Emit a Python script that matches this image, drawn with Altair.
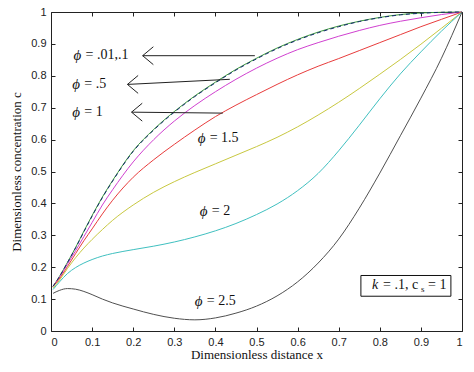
import altair as alt
import pandas as pd

# ---- data ----
xs = [0.005, 0.02, 0.04, 0.06, 0.08, 0.1, 0.125, 0.15, 0.2, 0.25, 0.3, 0.35, 0.4,
      0.45, 0.5, 0.55, 0.6, 0.65, 0.7, 0.75, 0.8, 0.85, 0.9, 0.95, 1.0]

c_phi_001 = [0.14, 0.17, 0.215, 0.262, 0.313, 0.362, 0.42, 0.472, 0.565, 0.632, 0.688, 0.737, 0.78,
             0.82, 0.855, 0.887, 0.914, 0.937, 0.956, 0.971, 0.983, 0.992, 0.997, 0.999, 1.0]
c_phi_01 = [0.14, 0.169, 0.214, 0.261, 0.311, 0.36, 0.418, 0.47, 0.563, 0.63, 0.686, 0.735, 0.778,
            0.818, 0.853, 0.885, 0.912, 0.935, 0.954, 0.97, 0.982, 0.991, 0.996, 0.999, 1.0]
c_phi_05 = [0.14, 0.167, 0.21, 0.252, 0.296, 0.34, 0.395, 0.443, 0.53, 0.6, 0.658, 0.707, 0.75,
            0.789, 0.824, 0.855, 0.882, 0.904, 0.924, 0.942, 0.958, 0.971, 0.982, 0.992, 1.0]
c_phi_1 = [0.14, 0.163, 0.202, 0.243, 0.283, 0.32, 0.367, 0.41, 0.482, 0.537, 0.585, 0.63, 0.672,
           0.708, 0.741, 0.773, 0.803, 0.83, 0.854, 0.879, 0.904, 0.929, 0.954, 0.977, 1.0]
c_phi_15 = [0.135, 0.158, 0.196, 0.23, 0.26, 0.287, 0.318, 0.347, 0.395, 0.435, 0.468, 0.497, 0.524,
            0.551, 0.578, 0.607, 0.64, 0.677, 0.717, 0.76, 0.805, 0.851, 0.899, 0.949, 1.0]
c_phi_2 = [0.13, 0.153, 0.18, 0.199, 0.213, 0.224, 0.235, 0.243, 0.255, 0.266, 0.279, 0.295, 0.314,
           0.337, 0.365, 0.398, 0.44, 0.494, 0.565, 0.645, 0.728, 0.806, 0.875, 0.94, 1.0]
c_phi_25 = [0.118, 0.127, 0.133, 0.131, 0.124, 0.114, 0.1, 0.088, 0.069, 0.052, 0.04, 0.035, 0.041,
            0.056, 0.078, 0.11, 0.154, 0.213, 0.288, 0.385, 0.495, 0.612, 0.73, 0.855, 1.0]

series_names = ["phi=.01", "phi=.5", "phi=1", "phi=1.5", "phi=2", "phi=2.5"]
series_vals = [c_phi_001, c_phi_05, c_phi_1, c_phi_15, c_phi_2, c_phi_25]
series_colors = ["#3c9a3c", "#d040d0", "#e83c3c", "#c8c840", "#40c0c0", "#505050"]

tick_vals = [0, 0.1, 0.2, 0.3, 0.4, 0.5, 0.6, 0.7, 0.8, 0.9, 1]

# annotation labels (data units)
lab_x = [0.055, 0.052, 0.052, 0.357, 0.362, 0.35]
lab_y = [0.866, 0.773, 0.686, 0.606, 0.376, 0.093]
lab_rest = ["= .01,.1", "= .5", "= 1", "= 1.5", "= 2", "= 2.5"]

# arrows: tail -> tip
arr_x = [0.496, 0.435, 0.418]
arr_y = [0.863, 0.789, 0.683]
arr_x2 = [0.223, 0.186, 0.196]
arr_y2 = [0.863, 0.773, 0.686]
head_dx = 0.026
head_dy = 0.028

box_x = [0.754]
box_x2 = [0.973]
box_y = [0.109]
box_y2 = [0.174]
box_tx = [0.781]
box_ty = [0.143]

# ---- tables ----
rows = []
for name, vals in zip(series_names, series_vals):
    for xv, cv in zip(xs, vals):
        rows.append({"x": xv, "c": cv, "s": name})
df = pd.DataFrame(rows)
df_blue = pd.DataFrame({"x": xs, "c": c_phi_01})

df_lab = pd.DataFrame({"x": lab_x, "y": lab_y, "t": lab_rest})

seg = []
for a, b, a2, b2 in zip(arr_x, arr_y, arr_x2, arr_y2):
    seg.append({"x": a, "y": b, "x2": a2, "y2": b2})
    seg.append({"x": a2, "y": b2, "x2": a2 + head_dx, "y2": b2 + head_dy})
    seg.append({"x": a2, "y": b2, "x2": a2 + head_dx, "y2": b2 - head_dy})
df_seg = pd.DataFrame(seg)

df_box = pd.DataFrame({"x": box_x, "x2": box_x2, "y": box_y, "y2": box_y2,
                       "tx": box_tx, "ty": box_ty})

serif = "'Times New Roman', 'Liberation Serif', 'DejaVu Serif', serif"
sans = "Arial, 'Liberation Sans', 'DejaVu Sans', sans-serif"

xscale = alt.Scale(domain=[0, 1], nice=False, zero=False)
yscale = alt.Scale(domain=[0, 1], nice=False, zero=False)

x_axis = alt.Axis(values=tick_vals, format="~g", offset=-4, tickSize=4, domain=False,
                  grid=False, labelPadding=5, labelFont=sans, labelFontSize=11,
                  labelColor="#222", tickColor="#222",
                  title="Dimensionless distance  x", titleFont=serif, titleFontSize=13,
                  titleFontWeight="normal", titleColor="#111", titlePadding=1)
y_axis = alt.Axis(values=tick_vals, format="~g", offset=-4, tickSize=4, domain=False,
                  grid=False, labelPadding=5, labelFont=sans, labelFontSize=11,
                  labelColor="#222", tickColor="#222",
                  title="Dimensionless concentration  c", titleFont=serif, titleFontSize=13,
                  titleFontWeight="normal", titleColor="#111", titlePadding=7)
x_top = alt.Axis(values=tick_vals, orient="top", offset=-4, tickSize=4, domain=False,
                 grid=False, labels=False, title=None, tickColor="#222")
y_right = alt.Axis(values=tick_vals, orient="right", offset=-4, tickSize=4, domain=False,
                   grid=False, labels=False, title=None, tickColor="#222")

lines = alt.Chart(df).mark_line(strokeWidth=1, interpolate="monotone").encode(
    x=alt.X("x:Q", scale=xscale, axis=x_axis),
    y=alt.Y("c:Q", scale=yscale, axis=y_axis),
    color=alt.Color("s:N", scale=alt.Scale(domain=series_names, range=series_colors), legend=None),
    detail="s:N",
)

blue = alt.Chart(df_blue).mark_line(strokeWidth=1, color="#14286e", strokeDash=[4, 3],
                                    interpolate="monotone").encode(
    x=alt.X("x:Q", scale=xscale, axis=None),
    y=alt.Y("c:Q", scale=yscale, axis=None),
)

arrows = alt.Chart(df_seg).mark_rule(color="#222", strokeWidth=1).encode(
    x=alt.X("x:Q", scale=xscale, axis=None), y=alt.Y("y:Q", scale=yscale, axis=None),
    x2="x2:Q", y2="y2:Q",
)

phi = alt.Chart(df_lab).mark_text(align="left", baseline="middle", font=serif, fontSize=15,
                                  fontStyle="italic", color="#111", text="ϕ").encode(
    x=alt.X("x:Q", scale=xscale, axis=None), y=alt.Y("y:Q", scale=yscale, axis=None),
)
rest = alt.Chart(df_lab).mark_text(align="left", baseline="middle", font=serif, fontSize=14,
                                   color="#111", dx=12).encode(
    x=alt.X("x:Q", scale=xscale, axis=None), y=alt.Y("y:Q", scale=yscale, axis=None),
    text="t:N",
)

box = alt.Chart(df_box).mark_rect(fill="white", stroke="#111", strokeWidth=1).encode(
    x=alt.X("x:Q", scale=xscale, axis=x_top), y=alt.Y("y:Q", scale=yscale, axis=y_right),
    x2="x2:Q", y2="y2:Q",
)
box_k = alt.Chart(df_box).mark_text(align="left", baseline="middle", font=serif, fontSize=14,
                                    fontStyle="italic", color="#111", text="k").encode(
    x=alt.X("tx:Q", scale=xscale, axis=None), y=alt.Y("ty:Q", scale=yscale, axis=None),
)
box_t1 = alt.Chart(df_box).mark_text(align="left", baseline="middle", font=serif, fontSize=14,
                                     color="#111", text="= .1, c", dx=11).encode(
    x=alt.X("tx:Q", scale=xscale, axis=None), y=alt.Y("ty:Q", scale=yscale, axis=None),
)
box_s = alt.Chart(df_box).mark_text(align="left", baseline="middle", font=serif, fontSize=9,
                                    color="#111", text="s", dx=49, dy=4).encode(
    x=alt.X("tx:Q", scale=xscale, axis=None), y=alt.Y("ty:Q", scale=yscale, axis=None),
)
box_t2 = alt.Chart(df_box).mark_text(align="left", baseline="middle", font=serif, fontSize=14,
                                     color="#111", text="= 1", dx=56).encode(
    x=alt.X("tx:Q", scale=xscale, axis=None), y=alt.Y("ty:Q", scale=yscale, axis=None),
)

chart = alt.layer(lines, blue, arrows, phi, rest, box, box_k, box_t1, box_s, box_t2).resolve_axis(
    x="independent", y="independent"
).properties(
    width=411, height=319,
    padding={"left": 43, "top": 4, "right": 3, "bottom": 30},
    autosize=alt.AutoSizeParams(type="none"),
    background="white",
).configure_view(stroke="#222", strokeWidth=1)

chart.save("out.html", embed_options={"renderer": "svg", "actions": False})
